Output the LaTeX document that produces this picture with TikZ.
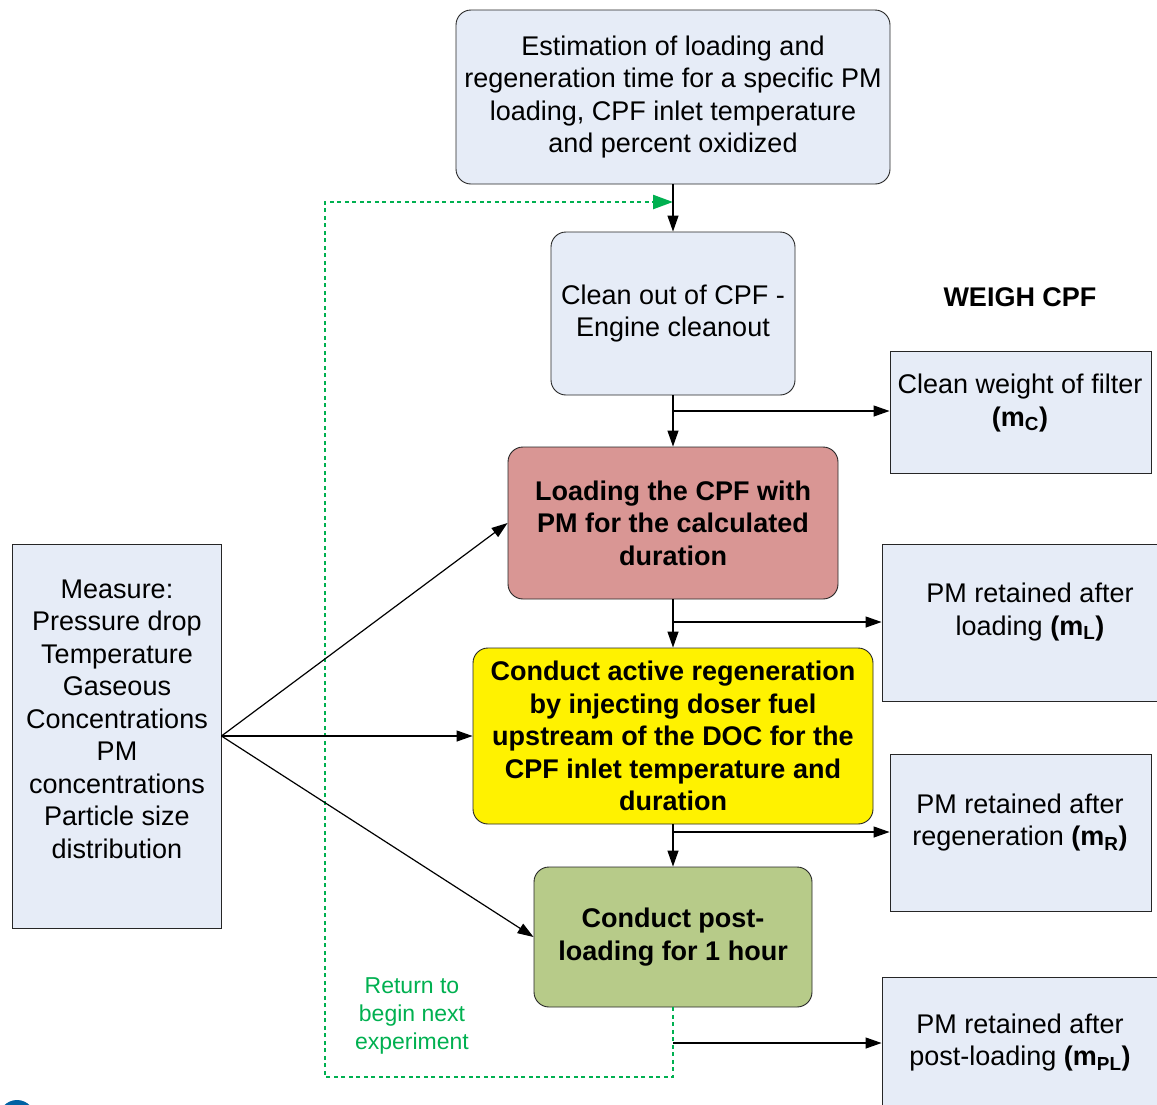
\documentclass[tikz,border=0pt]{standalone}
\usepackage{fontspec}
\setmainfont{Liberation Sans}
\usetikzlibrary{arrows.meta}
\definecolor{boxblue}{HTML}{E6ECF7}
\definecolor{loadred}{HTML}{D99694}
\definecolor{postgreen}{HTML}{B7CB89}
\definecolor{retgreen}{HTML}{00B050}
\definecolor{logoblue}{HTML}{0062A3}
\newcommand\fsbig{\fontsize{27}{32.5}\selectfont}
\newcommand\fssmall{\fontsize{23}{28}\selectfont}
\begin{document}
\begin{tikzpicture}[x=1pt,y=-1pt,
  rbox/.style={draw=black!85, line width=0.9pt, rounded corners=15pt, fill=boxblue, align=center, inner sep=0pt, font=\fsbig},
  sbox/.style={draw=black!85, line width=0.9pt, fill=boxblue, inner sep=0pt},
  txt/.style={align=center, inner sep=0pt, font=\fsbig},
  arr/.style={-{Triangle[length=16pt,width=11pt]}, line width=1.2pt},
  gline/.style={draw=retgreen, line width=2.4pt, dash pattern=on 4pt off 3.5pt, -{Triangle[length=20pt,width=14pt]}}]
\useasboundingbox (0,0) rectangle (1157,1104);
% main column
\node[rbox, minimum width=434pt, minimum height=174pt] (top) at (673,97)
  {Estimation of loading and\\regeneration time for a specific PM\\loading, CPF inlet temperature\\and percent oxidized};
\node[rbox, minimum width=244pt, minimum height=163pt] (clean) at (673,313.5)
  {Clean out of CPF -\\Engine cleanout};
\node[rbox, fill=loadred, minimum width=330pt, minimum height=152pt, font=\fsbig\bfseries] (load) at (673,523)
  {Loading the CPF with\\PM for the calculated\\duration};
\node[rbox, fill=yellow, minimum width=400pt, minimum height=176pt, font=\fsbig\bfseries] (regen) at (673,736)
  {Conduct active regeneration\\by injecting doser fuel\\upstream of the DOC for the\\CPF inlet temperature and\\duration};
\node[rbox, fill=postgreen, minimum width=278pt, minimum height=140pt, font=\fsbig\bfseries] (post) at (673,937)
  {Conduct post-\\loading for 1 hour};
% measure box
\node[sbox, minimum width=209pt, minimum height=384pt] (meas) at (116.5,736) {};
\node[txt] (measT) at (117,719)
  {Measure:\\Pressure drop\\Temperature\\Gaseous\\Concentrations\\PM\\concentrations\\Particle size\\distribution};
% weigh column
\node[txt, font=\fsbig\bfseries] (weigh) at (1020,297) {WEIGH CPF};
\node[sbox, minimum width=261pt, minimum height=122pt] (cw) at (1020.5,412) {};
\node[txt] (cwT) at (1020,403) {Clean weight of filter\\\textbf{(m\textsubscript{C})}};
\node[sbox, minimum width=283pt, minimum height=157pt] (pl) at (1023.5,622.5) {};
\node[txt] (plT) at (1030,612) {PM retained after\\loading \textbf{(m\textsubscript{L})}};
\node[sbox, minimum width=261pt, minimum height=157pt] (pr) at (1020.5,832.5) {};
\node[txt] (prT) at (1020,822.5) {PM retained after\\regeneration \textbf{(m\textsubscript{R})}};
\node[sbox, minimum width=283pt, minimum height=140pt] (ppl) at (1023.5,1047) {};
\node[txt] (pplT) at (1020,1042.5) {PM retained after\\post-loading \textbf{(m\textsubscript{PL})}};
% return label
\node[align=center, inner sep=0pt, font=\fssmall, text=retgreen] (ret) at (412,1016)
  {Return to\\begin next\\experiment};
% coordinates
\coordinate (b1) at (673,411);
\coordinate (b2) at (673,622);
\coordinate (b3) at (673,832);
\coordinate (b4) at (673,1043);
\coordinate (gb) at (673,1077);
\coordinate (gl) at (325,1077);
\coordinate (gt) at (325,202);
\coordinate (gr) at (673,202);
% green return path
\draw[gline] (post.south) -- (gb) -- (gl) -- (gt) -- (gr);
% vertical arrows
\draw[arr] (top.south) -- (clean.north);
\draw[arr] (clean.south) -- (load.north);
\draw[arr] (load.south) -- (regen.north);
\draw[arr] (regen.south) -- (post.north);
% branch arrows
\draw[arr] (b1) -- (cw.west |- b1);
\draw[arr] (b2) -- (pl.west |- b2);
\draw[arr] (b3) -- (pr.west |- b3);
\draw[arr] (b4) -- (ppl.west |- b4);
% measure arrows
\draw[arr] (meas.east) -- (load.west);
\draw[arr] (meas.east) -- (regen.west);
\draw[arr] (meas.east) -- (post.west);
% logo fragment
\fill[logoblue] (17,1118) circle (18);
\end{tikzpicture}
\end{document}
